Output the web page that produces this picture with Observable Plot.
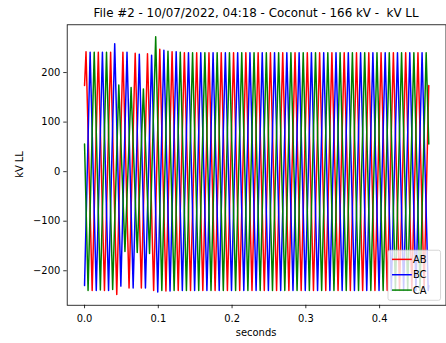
<!DOCTYPE html>
<html><head><meta charset="utf-8">
<script src="https://cdn.jsdelivr.net/npm/d3@7"></script>
<script src="https://cdn.jsdelivr.net/npm/@observablehq/plot@0.6"></script>
<style>
html,body{margin:0;padding:0;background:#fff;overflow:hidden;width:446px;height:343px}
#chart{position:relative;width:446px;height:343px;overflow:hidden}
</style></head><body><div id="chart"></div>
<script>
// ---- data ----
const titleText = "File #2 - 10/07/2022, 04:18 - Coconut - 166 kV -  kV LL";
const phases = ["AB", "BC", "CA"];
const colors = ["red", "blue", "green"];
const period = 1 / 60;                 // one cycle, seconds
const tEnd = 0.46667;                  // last sample time
const startValues = [174, -230, 56];   // kV at t = 0
const endValues = [174, -230, 56];     // kV at t = tEnd
const firstPosPeakTime = [0.00201, 0.00757, 0.01312];
const firstNegPeakTime = [0.01035, 0.01590, 0.00479];
// one positive and one negative peak per cycle (28 cycles)
const abPos = [242, 241, 241, 241, 239, 238, 247, 242, 240, 240, 240, 240, 240, 240, 240, 240, 240, 240, 240, 240, 240, 240, 240, 240, 240, 240, 240, 240];
const abNeg = [-240, -240, -248, -235, -235, -240, -241, -240, -240, -240, -240, -240, -240, -240, -240, -240, -240, -240, -240, -240, -240, -240, -240, -240, -240, -240, -240, -240];
const bcPos = [241, 241, 258, 241, 237, 235, 245, 242, 240, 240, 240, 240, 240, 240, 240, 240, 240, 240, 240, 240, 240, 240, 240, 240, 240, 240, 240, 240];
const bcNeg = [-240, -240, -231, -235, -235, -243, -241, -240, -240, -240, -240, -240, -240, -240, -240, -240, -240, -240, -240, -240, -240, -240, -240, -240, -240, -240, -240, -240];
const caPos = [241, 241, 175, 170, 167, 272, 243, 241, 240, 240, 240, 240, 240, 240, 240, 240, 240, 240, 240, 240, 240, 240, 240, 240, 240, 240, 240, 240];
const caNeg = [-240, -239, -238, -161, -163, -165, -240, -240, -240, -240, -240, -240, -240, -240, -240, -240, -240, -240, -240, -240, -240, -240, -240, -240, -240, -240, -240, -240];
const xTicks = [0, 0.1, 0.2, 0.3, 0.4];
const yTicks = [-200, -100, 0, 100, 200];

// ---- build table ----
const peaks = [[abPos, abNeg], [bcPos, bcNeg], [caPos, caNeg]];
const data = [];
phases.forEach((name, i) => {
  const pts = [{t: 0, v: startValues[i], phase: name}];
  peaks[i][0].forEach((v, k) => pts.push({t: firstPosPeakTime[i] + k * period, v, phase: name}));
  peaks[i][1].forEach((v, k) => pts.push({t: firstNegPeakTime[i] + k * period, v, phase: name}));
  pts.push({t: tEnd, v: endValues[i], phase: name});
  pts.sort((a, b) => a.t - b.t);
  data.push(...pts);
});

const svgW = 450, svgH = 343;
const chart = Plot.plot({
  width: svgW, height: svgH,
  marginLeft: 67.3, marginRight: 0.5, marginTop: 24.5, marginBottom: 35.5,
  style: {fontFamily: "DejaVu Sans", fontSize: "10px", color: "black", background: "white"},
  x: {domain: [-0.0235, 0.49]},
  y: {domain: [-269.6, 296.4]},
  color: {domain: phases, range: colors},
  marks: [
    Plot.line(data, {x: "t", y: "v", z: "phase", stroke: "phase", strokeWidth: 1.5, strokeLinejoin: "round", clip: true}),
    Plot.frame({stroke: "black", strokeWidth: 0.8}),
    Plot.axisX(xTicks, {tickFormat: d3.format(".1f"), tickSize: 3.5, tickPadding: 6, fontSize: 10, strokeWidth: 0.8, label: null}),
    Plot.axisY(yTicks, {tickSize: 3.5, tickPadding: 3.5, fontSize: 10, strokeWidth: 0.8, label: null})
  ]
});

const svg = d3.select(chart);
const ff = "DejaVu Sans";
svg.append("text").attr("x", 258.4).attr("y", 17).attr("text-anchor", "middle")
  .attr("font-family", ff).attr("font-size", 12).attr("fill", "black").text(titleText);
svg.append("text").attr("x", 258.4).attr("y", 339).attr("text-anchor", "middle")
  .attr("font-family", ff).attr("font-size", 10).attr("fill", "black").text("seconds");
svg.append("text").attr("transform", "translate(23,166) rotate(-90)").attr("text-anchor", "middle")
  .attr("font-family", ff).attr("font-size", 10).attr("fill", "black").text("kV LL");

const lg = svg.append("g");
lg.append("rect").attr("x", 391.5).attr("y", 252.5).attr("width", 53).attr("height", 50.5).attr("rx", 2)
  .attr("fill", "white").attr("fill-opacity", 0.8).attr("stroke", "#cccccc").attr("stroke-width", 0.8);
phases.forEach((name, i) => {
  const y = 261.7 + i * 15.5;
  lg.append("line").attr("x1", 395.5).attr("x2", 415.5).attr("y1", y).attr("y2", y)
    .attr("stroke", colors[i]).attr("stroke-width", 1.5);
  lg.append("text").attr("x", 423.5).attr("y", y + 3.6).attr("font-family", ff).attr("font-size", 10)
    .attr("fill", "black").text(name);
});

document.getElementById("chart").appendChild(chart);
</script></body></html>
